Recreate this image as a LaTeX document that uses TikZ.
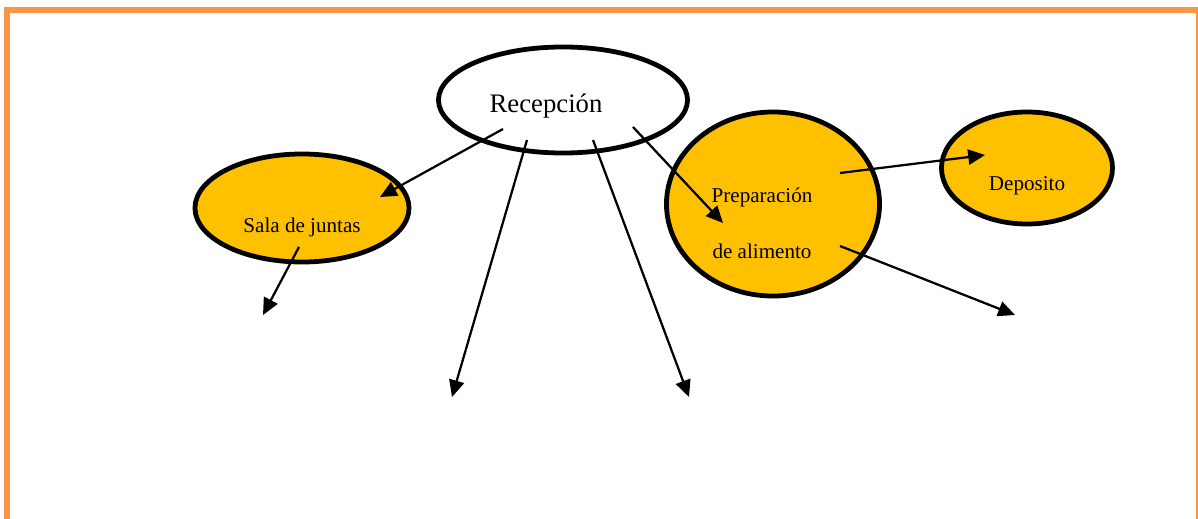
\documentclass[tikz,border=0pt]{standalone}
\usepackage{fontspec}
\setmainfont{Liberation Serif}
\usetikzlibrary{shapes.geometric,arrows.meta}
\definecolor{borde}{HTML}{F79646}
\definecolor{amarillo}{HTML}{FFC000}
\tikzset{
	zona/.style={ellipse, draw=black, line width=3.4pt, fill=amarillo, inner sep=0pt},
	txt/.style={anchor=base, inner sep=0pt, font=\fontsize{15}{18}\selectfont},
	flecha/.style={line width=1.6pt, -{Triangle[length=0.42cm,width=0.38cm]}}
}

\begin{document}
\begin{tikzpicture}[x=0.025cm, y=-0.025cm]
			%%%%% START %%%%%
			
			\useasboundingbox (0,0) rectangle (1198,519);
			\draw[borde, line width=4.3pt] (7,519) -- (7,10) -- (1198,10);
			\draw[borde, line width=1.1pt] (1197,10) -- (1197,519);
			
			\node[zona, fill=white, minimum width=6.225cm, minimum height=2.65cm] (rec) at (563,100) {};
			\node[zona, minimum width=5.35cm, minimum height=2.7cm] (sala) at (302,208) {};
			\node[zona, minimum width=5.325cm, minimum height=4.6cm] (prep) at (773,204) {};
			\node[zona, minimum width=4.275cm, minimum height=2.8cm] (depo) at (1027,168) {};
			
			\node[txt, font=\fontsize{19}{22}\selectfont] (rectxt) at (546,113) {Recepción};
			\node[txt] (salatxt) at (302,232) {Sala de juntas};
			\node[txt] (preptxt) at (762,202) {Preparación};
			\node[txt] (alimtxt) at (762,258) {de alimento};
			\node[txt] (depotxt) at (1027,190) {Deposito};
			
			\coordinate (rec1) at (503,129);
			\coordinate (rec2) at (527,140);
			\coordinate (rec3) at (593,140);
			\coordinate (rec4) at (633,127);
			\coordinate (sala1) at (299,247);
			\coordinate (prep1) at (840,173);
			\coordinate (prep2) at (840,246);
			\coordinate (salaend) at (380,197);
			\coordinate (prepend) at (723,223);
			\coordinate (depoend) at (985,155);
			\coordinate (fin1) at (263,315);
			\coordinate (fin2) at (452,397);
			\coordinate (fin3) at (689,397);
			\coordinate (fin4) at (1015,315);
			
			\draw[flecha] (rec1) -- (salaend);
			\draw[flecha] (rec2) -- (fin2);
			\draw[flecha] (rec3) -- (fin3);
			\draw[flecha] (rec4) -- (prepend);
			\draw[flecha] (sala1) -- (fin1);
			\draw[flecha] (prep1) -- (depoend);
			\draw[flecha] (prep2) -- (fin4);
			
			%%%%% END %%%%%
\end{tikzpicture}
\end{document}
